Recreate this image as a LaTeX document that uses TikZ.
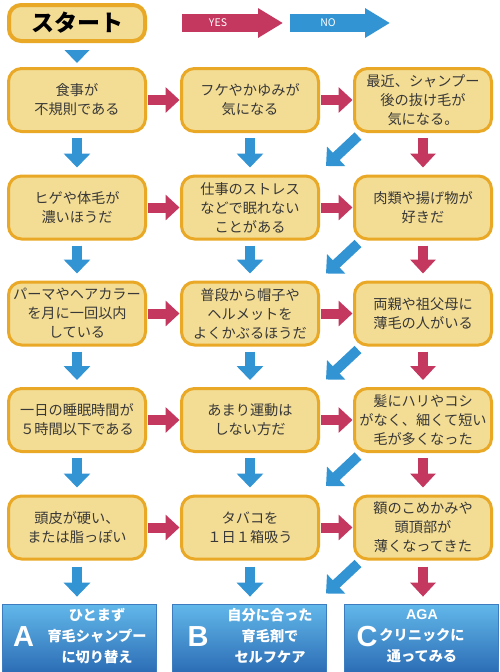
\documentclass[tikz,border=0pt]{standalone}
\usepackage{fontspec}
\setmainfont{Noto Sans CJK JP}
\newfontfamily\latfont{Liberation Sans}
\usetikzlibrary{arrows.meta,calc}
\definecolor{boxfill}{HTML}{F3DC94}
\definecolor{boxborder}{HTML}{E9A825}
\definecolor{myblue}{HTML}{3394D3}
\definecolor{mymag}{HTML}{C4385F}
\definecolor{txt}{HTML}{383838}
\definecolor{btop}{HTML}{62B8EA}
\definecolor{bbot}{HTML}{2C6DB5}
\definecolor{bborder}{HTML}{3E7CC0}
\begin{document}
\begin{tikzpicture}[x=1pt,y=-1pt,
  qbox/.style={draw=boxborder, fill=boxfill, line width=3pt, rounded corners=13pt,
    minimum width=137pt, minimum height=63pt, inner sep=0pt, align=center, text=txt,
    font=\fontsize{14.2}{19}\selectfont},
  startbox/.style={draw=boxborder, fill=boxfill, line width=4pt, rounded corners=12pt,
    minimum width=136pt, minimum height=36pt, inner sep=0pt, text=black,
    font=\fontsize{23}{26}\selectfont\bfseries},
  resbox/.style={draw=bborder, line width=0.8pt, top color=btop, bottom color=bbot,
    minimum width=154pt, minimum height=68pt, inner sep=0pt},
  reslabel/.style={text=white, font=\latfont\fontsize{29}{30}\selectfont\bfseries, inner sep=0pt},
  restext/.style={text=white, align=center, inner sep=0pt, font=\fontsize{14.2}{21}\selectfont\bfseries},
  barrow/.style={draw=myblue, line width=10pt, -{Triangle[width=26pt,length=14pt]}},
  marrow/.style={draw=mymag, line width=10pt, -{Triangle[width=25pt,length=14pt]}},
  legtext/.style={text=white, inner sep=0pt, font=\fontsize{10.5}{12}\selectfont},
]
\useasboundingbox (0,0) rectangle (500,672);
\fill[white] (0,0) rectangle (500,672);

% legend
\coordinate (ys) at (182,23);
\coordinate (ye) at (283,23);
\coordinate (ns) at (290,23);
\coordinate (ne) at (390,23);
\draw[draw=mymag, line width=18pt, -{Triangle[width=28pt,length=25pt]}] (ys) -- (ye);
\draw[draw=myblue, line width=18pt, -{Triangle[width=28pt,length=25pt]}] (ns) -- (ne);
\node[legtext] (yes) at (218,23) {YES};
\node[legtext] (no) at (328,23) {NO};

% start
\node[startbox] (start) at (77,23) {スタート};
\fill[myblue] ($(start.south)+(-12.5,7)$) -- ++(25,0) -- ($(start.south)+(0,20)$) -- cycle;

% question boxes
\node[qbox] (r1c1) at (77,100) {食事が\\不規則である};
\node[qbox] (r1c2) at (250,100) {フケやかゆみが\\気になる};
\node[qbox] (r1c3) at (423,100) {最近、シャンプー\\後の抜け毛が\\気になる。};
\node[qbox] (r2c1) at (77,207.5) {ヒゲや体毛が\\濃いほうだ};
\node[qbox] (r2c2) at (250,207.5) {仕事のストレス\\などで眠れない\\ことがある};
\node[qbox] (r2c3) at (423,207.5) {肉類や揚げ物が\\好きだ};
\node[qbox] (r3c1) at (77,313.5) {パーマやヘアカラー\\を月に一回以内\\している};
\node[qbox] (r3c2) at (250,313.5) {普段から帽子や\\ヘルメットを\\よくかぶるほうだ};
\node[qbox] (r3c3) at (423,313.5) {両親や祖父母に\\薄毛の人がいる};
\node[qbox] (r4c1) at (77,420) {一日の睡眠時間が\\５時間以下である};
\node[qbox] (r4c2) at (250,420) {あまり運動は\\しない方だ};
\node[qbox] (r4c3) at (423,420) {髪にハリやコシ\\がなく、細くて短い\\毛が多くなった};
\node[qbox] (r5c1) at (77,527.5) {頭皮が硬い、\\または脂っぽい};
\node[qbox] (r5c2) at (250,527.5) {タバコを\\１日１箱吸う};
\node[qbox] (r5c3) at (423,527.5) {額のこめかみや\\頭頂部が\\薄くなってきた};

% result boxes
\node[resbox] (rA) at (79,638) {};
\node[resbox] (rB) at (249.5,638) {};
\node[resbox] (rC) at (421.5,638) {};
\node[reslabel] (lA) at (23.5,637) {A};
\node[reslabel] (lB) at (198,637) {B};
\node[reslabel] (lC) at (367,637) {C};
\node[restext] (tA) at (97,636) {ひとまず\\育毛シャンプー\\に切り替え};
\node[restext] (tB) at (270,636) {自分に合った\\育毛剤で\\セルフケア};
\node[restext] (tC) at (422,636) {\latfont AGA\\クリニックに\\通ってみる};

% NO arrows down (columns 1 and 2)
\foreach \r/\n in {1/2,2/3,3/4,4/5}{
  \draw[barrow, shorten <=5pt, shorten >=7pt] (r\r c1.south) -- (r\n c1.north);
  \draw[barrow, shorten <=5pt, shorten >=7pt] (r\r c2.south) -- (r\n c2.north);
}
\draw[barrow, shorten <=6pt, shorten >=7pt] (r5c1.south) -- (r5c1.south |- rA.north);
\draw[barrow, shorten <=6pt, shorten >=7pt] (r5c2.south) -- (r5c2.south |- rB.north);

% YES arrows right
\foreach \r in {1,...,5}{
  \draw[marrow, shorten <=1pt, shorten >=0.5pt] (r\r c1.east) -- (r\r c2.west);
  \draw[marrow, shorten <=1pt, shorten >=0.5pt] (r\r c2.east) -- (r\r c3.west);
}

% YES arrows down (column 3)
\foreach \r/\n in {1/2,2/3,3/4,4/5}{
  \draw[marrow, shorten <=5pt, shorten >=7pt] (r\r c3.south) -- (r\n c3.north);
}
\draw[marrow, shorten <=6pt, shorten >=7pt] (r5c3.south) -- (r5c3.south |- rC.north);

% NO arrows diagonal (column 3 to column 2)
\foreach \r in {1,...,5}{
  \draw[barrow] ($(r\r c3.south west)+(5,3)$) -- ++(-32,30);
}
\end{tikzpicture}
\end{document}
